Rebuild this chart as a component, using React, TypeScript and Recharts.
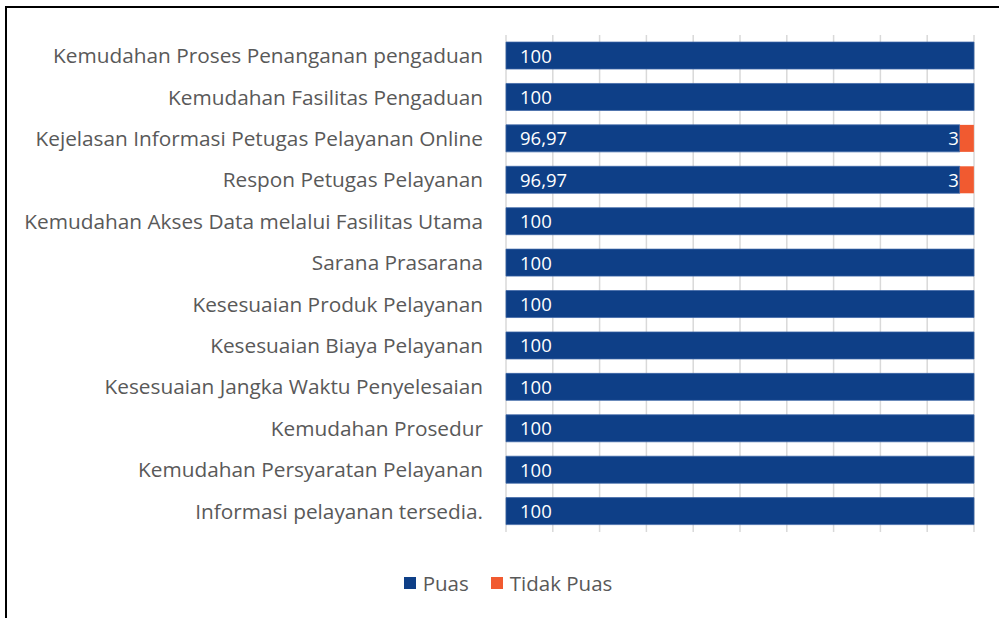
import { Bar, BarChart, CartesianGrid, LabelList, XAxis, YAxis } from "recharts"

const categories = [
  "Kemudahan Proses Penanganan pengaduan",
  "Kemudahan Fasilitas Pengaduan",
  "Kejelasan Informasi Petugas Pelayanan Online",
  "Respon Petugas Pelayanan",
  "Kemudahan Akses Data melalui Fasilitas Utama",
  "Sarana Prasarana",
  "Kesesuaian Produk Pelayanan",
  "Kesesuaian Biaya Pelayanan",
  "Kesesuaian Jangka Waktu Penyelesaian",
  "Kemudahan Prosedur",
  "Kemudahan Persyaratan Pelayanan",
  "Informasi pelayanan tersedia.",
]

const puas = [100, 100, 96.97, 96.97, 100, 100, 100, 100, 100, 100, 100, 100]
const tidakPuas = [0, 0, 3, 3, 0, 0, 0, 0, 0, 0, 0, 0]

const xTicks = [0, 10, 20, 30, 40, 50, 60, 70, 80, 90, 100]

const seriesNames = ["Puas", "Tidak Puas"]

const data = categories.map((name, i) => ({
  name,
  puas: puas[i],
  tidakPuas: tidakPuas[i],
}))

const FONT = "'Open Sans', sans-serif"
const BLUE = "#0E3F87"
const ORANGE = "#F15A30"
const TEXT = "#595959"

function formatValue(v: number | string) {
  return String(v).split(".").join(",")
}

function TidakPuasLabel(props: any) {
  const { x, y, height, value } = props
  if (!value) return null
  return (
    <text
      x={x - 1}
      y={y + height / 2 + 7}
      textAnchor="end"
      fill="#ffffff"
      fontSize={18.5}
      fontFamily={FONT}
    >
      {formatValue(value)}
    </text>
  )
}

function PuasLabel(props: any) {
  const { x, y, height, value } = props
  return (
    <text
      x={x + 14}
      y={y + height / 2 + 7}
      textAnchor="start"
      fill="#ffffff"
      fontSize={18.5}
      fontFamily={FONT}
    >
      {formatValue(value)}
    </text>
  )
}

export default function App() {
  const colors = [BLUE, ORANGE]
  return (
    <div style={{ position: "absolute", left: 0, top: 0, width: 999, height: 618, background: "#fff", overflow: "hidden" }}>
      <div
        style={{
          position: "absolute",
          left: 5,
          top: 6,
          right: -10,
          bottom: -10,
          borderLeft: "2px solid #000",
          borderTop: "2px solid #000",
        }}
      />
      <div style={{ position: "absolute", left: 0, top: 0 }}>
        <BarChart
          width={999}
          height={618}
          data={data}
          layout="vertical"
          margin={{ top: 35, right: 25, bottom: 86, left: 0 }}
          barCategoryGap="17%"
        >
          <CartesianGrid horizontal={false} stroke="#D9D9D9" strokeWidth={1.5} />
          <XAxis type="number" domain={[0, 100]} ticks={xTicks} hide />
          <YAxis
            type="category"
            dataKey="name"
            width={506}
            tickLine={false}
            axisLine={false}
            tickSize={0}
            tickMargin={23}
            interval={0}
            tick={{ fill: TEXT, fontSize: 20.8, fontFamily: FONT }}
          />
          <Bar dataKey="puas" name="Puas" stackId="a" fill={BLUE} stroke="#3C66A6" strokeWidth={0.75} isAnimationActive={false}>
            <LabelList dataKey="puas" content={PuasLabel} />
          </Bar>
          <Bar dataKey="tidakPuas" name="Tidak Puas" stackId="a" fill={ORANGE} isAnimationActive={false}>
            <LabelList dataKey="tidakPuas" content={TidakPuasLabel} />
          </Bar>
        </BarChart>
      </div>
      <div
        style={{
          position: "absolute",
          left: 0,
          width: 1016,
          top: 569,
          display: "flex",
          justifyContent: "center",
          gap: 22,
          fontFamily: FONT,
          fontSize: 20.5,
          color: TEXT,
        }}
      >
        {seriesNames.map((n, i) => (
          <span key={n} style={{ display: "inline-flex", alignItems: "center", gap: 7 }}>
            <span style={{ width: 12, height: 12, background: colors[i], display: "inline-block" }} />
            {n}
          </span>
        ))}
      </div>
    </div>
  )
}
